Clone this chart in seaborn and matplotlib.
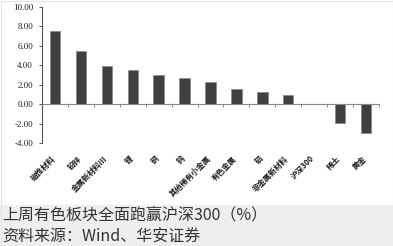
import matplotlib
matplotlib.use("Agg")
import matplotlib.pyplot as plt
import matplotlib.transforms as mtransforms
import seaborn as sns
import pandas as pd
from matplotlib.patches import Rectangle

categories = ["磁性材料", "铅锌", "金属新材料Ⅲ", "锂", "铜", "钨", "其他稀有小金属",
              "有色金属", "铝", "非金属新材料", "沪深300", "稀土", "黄金"]
values = [7.48, 5.46, 3.92, 3.52, 2.95, 2.68, 2.27, 1.61, 1.27, 0.96, 0.0, -1.96, -2.96]
y_ticks = [-4, -2, 0, 2, 4, 6, 8, 10]
title = "上周有色板块全面跑赢沪深300（%）"
source = "资料来源：Wind、华安证券"

sns.set_theme(style="white")
plt.rcParams["font.family"] = ["Noto Sans CJK SC", "DejaVu Sans"]

df = pd.DataFrame({"板块": categories, "涨跌幅": values})

fig = plt.figure(figsize=(3.93, 2.46), dpi=100)
fig.patch.set_facecolor("white")
W, H = 393, 246
ax = fig.add_axes([42 / W, (H - 143) / H, (379 - 42) / W, (143 - 7) / H])

sns.barplot(data=df, x="板块", y="涨跌幅", color="#404040", width=0.4,
            edgecolor="#8a8a8a", linewidth=0.6, saturation=1, ax=ax)

ax.set_ylim(-4, 10)
ax.set_xlim(-0.5, len(categories) - 0.5)
ax.set_yticks(y_ticks)
ax.set_yticklabels([f"{v:.2f}" for v in y_ticks], family="Liberation Serif",
                   fontsize=6.5, color="#222222")
ax.set_xlabel("")
ax.set_ylabel("")

for s in ["top", "right"]:
    ax.spines[s].set_visible(False)
ax.spines["left"].set_color("#555555")
ax.spines["left"].set_linewidth(0.8)
ax.spines["bottom"].set_position(("data", 0))
ax.spines["bottom"].set_color("#888888")
ax.spines["bottom"].set_linewidth(0.8)

ax.tick_params(axis="y", direction="out", length=2.5, width=0.7, color="#555555", pad=4, left=True)
# category ticks sit on the boundaries between bars
ax.set_xticks([i + 0.5 for i in range(len(categories))], minor=True)
ax.tick_params(axis="x", which="minor", direction="out", length=2.5, width=0.7,
               color="#888888", bottom=True)
ax.tick_params(axis="x", which="major", length=0, pad=36)
ax.set_xticks(range(len(categories)))
ax.set_xticklabels(categories, rotation=45, ha="right", rotation_mode="anchor",
                   fontsize=5.6, color="#1a1a1a", fontweight="bold")
shift = mtransforms.ScaledTranslation(-4 / 100, 0, fig.dpi_scale_trans)
for lab in ax.get_xticklabels():
    lab.set_transform(lab.get_transform() + shift)

# caption band and outer frame
fig.patches.append(Rectangle((0, 0), 1, (H - 205) / H, transform=fig.transFigure,
                             facecolor="#eeeeee", edgecolor="none", zorder=-1))
fig.patches.append(Rectangle((0.5 / W, 0.5 / H), 1 - 1 / W, 1 - 1 / H, transform=fig.transFigure,
                             facecolor="none", edgecolor="#e4e4e4", linewidth=0.8, zorder=5))
fig.text(2 / W, 1 - 215 / H, title, fontsize=11.5, color="#333333", va="center", ha="left")
fig.text(2 / W, 1 - 237 / H, source, fontsize=11.5, color="#333333", va="center", ha="left")

fig.savefig("out.png", dpi=100)
